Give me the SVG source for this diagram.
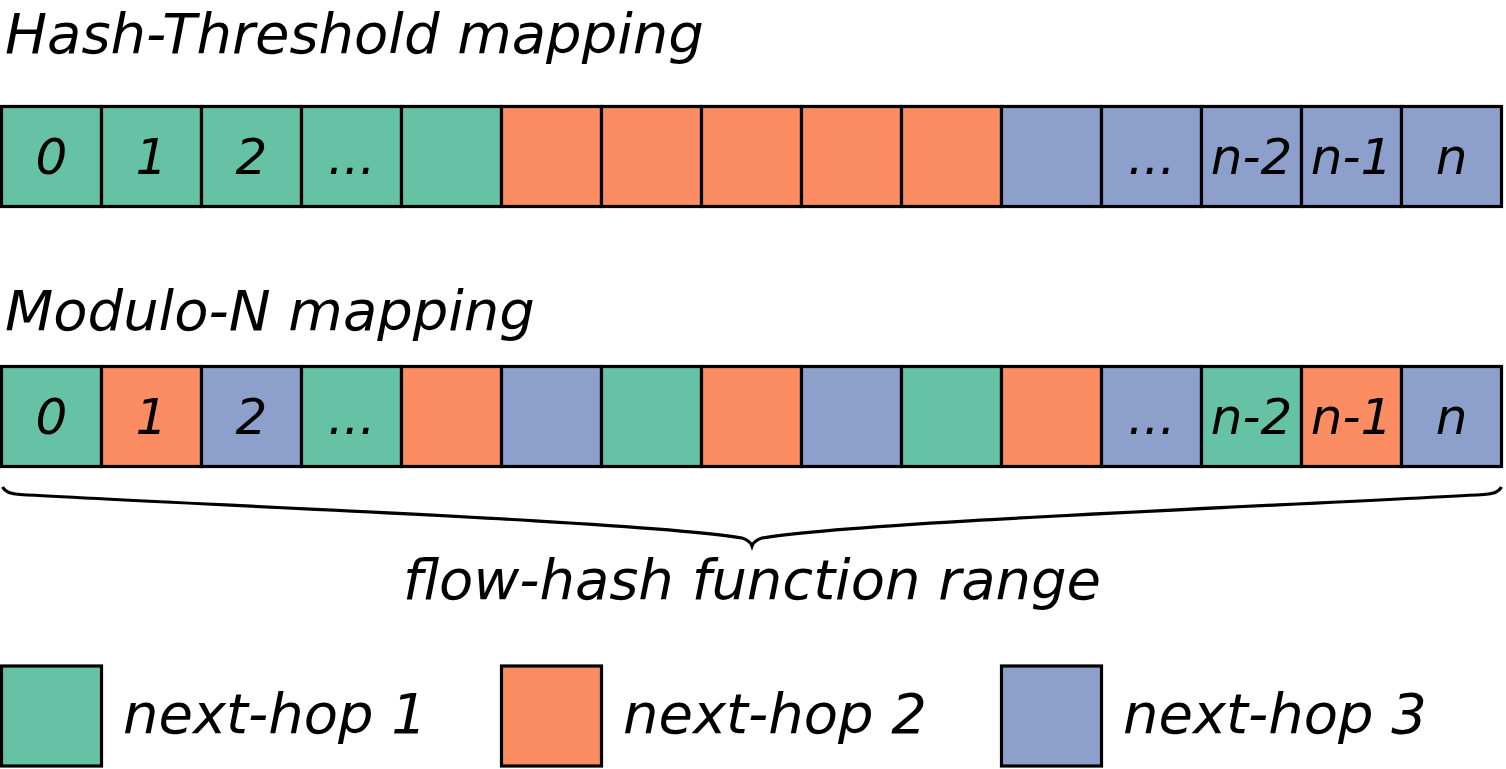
<svg xmlns="http://www.w3.org/2000/svg" width="1506" height="769" viewBox="0 0 1506 769">
<style>
text{font-family:"DejaVu Sans",sans-serif;font-style:oblique;fill:#000}
.t{font-size:56px}
.c{font-size:50px;text-anchor:middle}
.g,.o,.b{stroke:#000;stroke-width:3.2}
.g{fill:#66c2a5}.o{fill:#fc8d62}.b{fill:#8da0cb}
</style>
<rect x="0" y="0" width="1506" height="769" fill="#fff"/>
<text class="t" x="5" y="53">Hash-Threshold mapping</text>
<text class="t" x="5" y="330">Modulo-N mapping</text>
<g id="row1">
<rect class="g" x="1.5" y="106.5" width="100" height="100"/>
<rect class="g" x="101.5" y="106.5" width="100" height="100"/>
<rect class="g" x="201.5" y="106.5" width="100" height="100"/>
<rect class="g" x="301.5" y="106.5" width="100" height="100"/>
<rect class="g" x="401.5" y="106.5" width="100" height="100"/>
<rect class="o" x="501.5" y="106.5" width="100" height="100"/>
<rect class="o" x="601.5" y="106.5" width="100" height="100"/>
<rect class="o" x="701.5" y="106.5" width="100" height="100"/>
<rect class="o" x="801.5" y="106.5" width="100" height="100"/>
<rect class="o" x="901.5" y="106.5" width="100" height="100"/>
<rect class="b" x="1001.5" y="106.5" width="100" height="100"/>
<rect class="b" x="1101.5" y="106.5" width="100" height="100"/>
<rect class="b" x="1201.5" y="106.5" width="100" height="100"/>
<rect class="b" x="1301.5" y="106.5" width="100" height="100"/>
<rect class="b" x="1401.5" y="106.5" width="100" height="100"/>
<text class="c" x="51.5" y="174">0</text>
<text class="c" x="151.5" y="174">1</text>
<text class="c" x="251.5" y="174">2</text>
<text class="c" x="351.5" y="174">...</text>
<text class="c" x="1151.5" y="174">...</text>
<text class="c" x="1251.5" y="174">n-2</text>
<text class="c" x="1351.5" y="174">n-1</text>
<text class="c" x="1451.5" y="174">n</text>
</g>
<g id="row2">
<rect class="g" x="1.5" y="366.5" width="100" height="100"/>
<rect class="o" x="101.5" y="366.5" width="100" height="100"/>
<rect class="b" x="201.5" y="366.5" width="100" height="100"/>
<rect class="g" x="301.5" y="366.5" width="100" height="100"/>
<rect class="o" x="401.5" y="366.5" width="100" height="100"/>
<rect class="b" x="501.5" y="366.5" width="100" height="100"/>
<rect class="g" x="601.5" y="366.5" width="100" height="100"/>
<rect class="o" x="701.5" y="366.5" width="100" height="100"/>
<rect class="b" x="801.5" y="366.5" width="100" height="100"/>
<rect class="g" x="901.5" y="366.5" width="100" height="100"/>
<rect class="o" x="1001.5" y="366.5" width="100" height="100"/>
<rect class="b" x="1101.5" y="366.5" width="100" height="100"/>
<rect class="g" x="1201.5" y="366.5" width="100" height="100"/>
<rect class="o" x="1301.5" y="366.5" width="100" height="100"/>
<rect class="b" x="1401.5" y="366.5" width="100" height="100"/>
<text class="c" x="51.5" y="434">0</text>
<text class="c" x="151.5" y="434">1</text>
<text class="c" x="251.5" y="434">2</text>
<text class="c" x="351.5" y="434">...</text>
<text class="c" x="1151.5" y="434">...</text>
<text class="c" x="1251.5" y="434">n-2</text>
<text class="c" x="1351.5" y="434">n-1</text>
<text class="c" x="1451.5" y="434">n</text>
</g>
<g id="brace">
<path d="M2.5,487 C5,492 10,494 20,494.5 C200,505 650,522 742,538 C748,540 751,543 752,546 C753,543 756,540 762,538 C854,522 1304,505 1484,494.5 C1494,494 1499,492 1501.5,487" fill="none" stroke="#000" stroke-width="3.2"/>
</g>
<text class="t" x="752" y="599" text-anchor="middle">flow-hash function range</text>
<g id="legend1"><rect class="g" x="1.5" y="666" width="100" height="100"/><text class="t" x="123" y="733">next-hop 1</text></g>
<g id="legend2"><rect class="o" x="501.5" y="666" width="100" height="100"/><text class="t" x="623" y="733">next-hop 2</text></g>
<g id="legend3"><rect class="b" x="1001.5" y="666" width="100" height="100"/><text class="t" x="1123" y="733">next-hop 3</text></g>
</svg>
